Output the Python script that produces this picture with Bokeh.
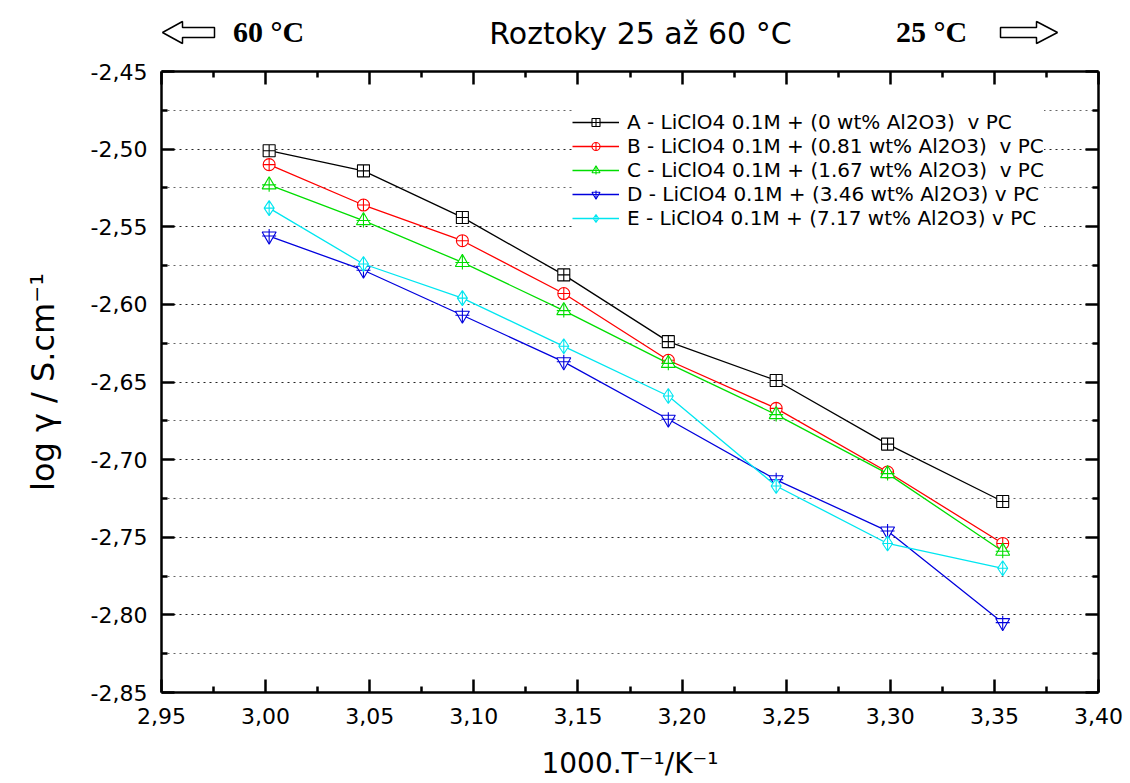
from bokeh.plotting import figure
from bokeh.layouts import column
from bokeh.models import (Range1d, FixedTicker, LinearAxis, CustomJSTickFormatter,
                          Legend, LegendItem)
from bokeh.core.properties import value
from bokeh.embed import file_html
from bokeh.resources import INLINE

# ---------------- data ----------------
inv_T = [3.0017, 3.0470, 3.0945, 3.1432, 3.1934, 3.2452, 3.2987, 3.3540]
series_A = [-2.501, -2.514, -2.544, -2.581, -2.624, -2.649, -2.690, -2.727]
series_B = [-2.510, -2.536, -2.559, -2.593, -2.636, -2.667, -2.708, -2.754]
series_C = [-2.523, -2.546, -2.573, -2.604, -2.638, -2.671, -2.709, -2.759]
series_D = [-2.556, -2.578, -2.607, -2.637, -2.674, -2.713, -2.746, -2.805]
series_E = [-2.538, -2.574, -2.596, -2.627, -2.659, -2.717, -2.754, -2.770]
series_labels = [
    "A - LiClO4 0.1M + (0 wt% Al2O3)  v PC",
    "B - LiClO4 0.1M + (0.81 wt% Al2O3)  v PC",
    "C - LiClO4 0.1M + (1.67 wt% Al2O3)  v PC",
    "D - LiClO4 0.1M + (3.46 wt% Al2O3) v PC",
    "E - LiClO4 0.1M + (7.17 wt% Al2O3) v PC",
]
x_ticks = [2.95, 3.00, 3.05, 3.10, 3.15, 3.20, 3.25, 3.30, 3.35, 3.40]
y_ticks = [-2.85, -2.80, -2.75, -2.70, -2.65, -2.60, -2.55, -2.50, -2.45]
title_text = "Roztoky 25 až 60 °C"
left_temp = "60 °C"
right_temp = "25 °C"
x_label = "1000.T\u207b\u00b9/K\u207b\u00b9"
y_label = "log \u03b3 / S.cm\u207b\u00b9"

# ---------------- layout ----------------
W, H = 1130, 783
HEAD = 52                      # header strip height
FL, FR, FT, FB = 161, 1098, 71, 692
SANS = "DejaVu Sans"

# ---------- header strip (title and temperature arrows) ----------
# its frame lines up with the main frame, so x data units == canvas pixels
hdr = figure(width=W, height=HEAD, x_range=Range1d(FL, FR), y_range=Range1d(HEAD, 0),
             output_backend="svg", toolbar_location=None,
             x_axis_type=None, y_axis_type=None,
             min_border_left=FL, min_border_right=W - FR,
             min_border_top=0, min_border_bottom=0)
hdr.outline_line_color = None
hdr.xgrid.visible = False
hdr.ygrid.visible = False
hdr.background_fill_color = "white"
hdr.border_fill_color = "white"

hdr.text(x=[640], y=[33], text=[title_text], text_align="center", text_baseline="middle",
         text_font=value(SANS), text_font_size="30px", text_color="black")
hdr.text(x=[268, 931], y=[31, 31], text=[left_temp, right_temp], text_align="center",
         text_baseline="middle", text_font=value("Liberation Serif"),
         text_font_style="bold", text_font_size="30px", text_color="black")

left_arrow_x = [162, 182, 182, 214, 214, 182, 182]
right_arrow_x = [1057, 1036, 1036, 1000, 1000, 1036, 1036]
arrow_y = [32, 21, 27, 27, 37, 37, 43]
hdr.patches(xs=[left_arrow_x, right_arrow_x], ys=[arrow_y, arrow_y],
            fill_color="white", line_color="black", line_width=1.5)

# ---------------- main plot ----------------
x_minor = [(a + b) / 2 for a, b in zip(x_ticks[:-1], x_ticks[1:])]
y_minor = [(a + b) / 2 for a, b in zip(y_ticks[:-1], y_ticks[1:])]

p = figure(width=W, height=H - HEAD,
           x_range=Range1d(x_ticks[0], x_ticks[-1]),
           y_range=Range1d(y_ticks[0], y_ticks[-1]),
           output_backend="svg", toolbar_location=None,
           min_border_left=FL, min_border_right=W - FR,
           min_border_top=FT - HEAD, min_border_bottom=H - FB)
p.outline_line_color = None
p.background_fill_color = "white"
p.border_fill_color = "white"

fmt = CustomJSTickFormatter(code="return tick.toFixed(2).replace('.', ',');")
blank = CustomJSTickFormatter(code="return '';")
xt = FixedTicker(ticks=x_ticks, minor_ticks=x_minor)
yt = FixedTicker(ticks=y_ticks, minor_ticks=y_minor)


def style_axis(ax, labels=True):
    ax.axis_line_width = 2.5
    ax.axis_line_color = "black"
    ax.major_tick_line_width = 2.5
    ax.minor_tick_line_width = 2.5
    ax.major_tick_line_color = "black"
    ax.minor_tick_line_color = "black"
    ax.major_tick_in = 13
    ax.major_tick_out = 0
    ax.minor_tick_in = 6
    ax.minor_tick_out = 0
    if labels:
        ax.major_label_text_font = SANS
        ax.major_label_text_font_size = "22px"
        ax.major_label_text_color = "black"
        ax.axis_label_text_font = SANS
        ax.axis_label_text_font_style = "normal"
        ax.axis_label_text_color = "black"
    else:
        ax.major_label_text_font_size = "0px"
        ax.major_label_standoff = 0


xa = p.xaxis[0]
ya = p.yaxis[0]
xa.ticker = xt
ya.ticker = yt
xa.formatter = fmt
ya.formatter = fmt
style_axis(xa)
style_axis(ya)
xa.major_label_standoff = 15
ya.major_label_standoff = 14
xa.axis_label = x_label
xa.axis_label_text_font_size = "28px"
xa.axis_label_standoff = 20
ya.axis_label = y_label
ya.axis_label_text_font_size = "32px"
ya.axis_label_standoff = 26

top_ax = LinearAxis(ticker=xt, formatter=blank)
style_axis(top_ax, labels=False)
p.add_layout(top_ax, "above")
right_ax = LinearAxis(ticker=yt, formatter=blank)
style_axis(right_ax, labels=False)
p.add_layout(right_ax, "right")

p.xgrid.visible = False
p.ygrid.grid_line_color = "black"
p.ygrid.grid_line_dash = "2 4"
p.ygrid.grid_line_alpha = 0.85
p.ygrid.minor_grid_line_color = "black"
p.ygrid.minor_grid_line_dash = "2 4"
p.ygrid.minor_grid_line_alpha = 0.6

# ---------------- series ----------------
all_series = [series_A, series_B, series_C, series_D, series_E]
colors = ["#000000", "#ff0000", "#00dd00", "#0000dd", "#00e6f0"]
markers = ["square_cross", "circle_cross", "triangle", "inverted_triangle", "diamond_cross"]
sizes = [12, 12, 14, 14, 15]
extra_cross = [False, False, True, True, False]

items = []
for ys, col, mk, sz, xc, lab in zip(all_series, colors, markers, sizes, extra_cross, series_labels):
    rs = []
    rs.append(p.line(inv_T, ys, line_color=col, line_width=1.3))
    rs.append(p.scatter(inv_T, ys, marker=mk, size=sz, line_color=col,
                        fill_color="white", fill_alpha=1.0, line_width=1.1))
    if xc:
        rs.append(p.scatter(inv_T, ys, marker="cross", size=sz, line_color=col, line_width=1.1))
    items.append(LegendItem(label=lab, renderers=rs))

legend = Legend(items=items, location=(411, 462))
legend.label_text_font = SANS
legend.label_text_font_size = "20px"
legend.label_text_color = "black"
legend.glyph_width = 47
legend.glyph_height = 20
legend.label_height = 20
legend.label_standoff = 8
legend.spacing = 0
legend.padding = 12
legend.margin = 0
legend.border_line_color = None
legend.background_fill_color = "white"
legend.background_fill_alpha = 1.0
p.add_layout(legend)

layout = column(hdr, p, spacing=0)
open("out.html", "w").write(file_html(layout, INLINE))
